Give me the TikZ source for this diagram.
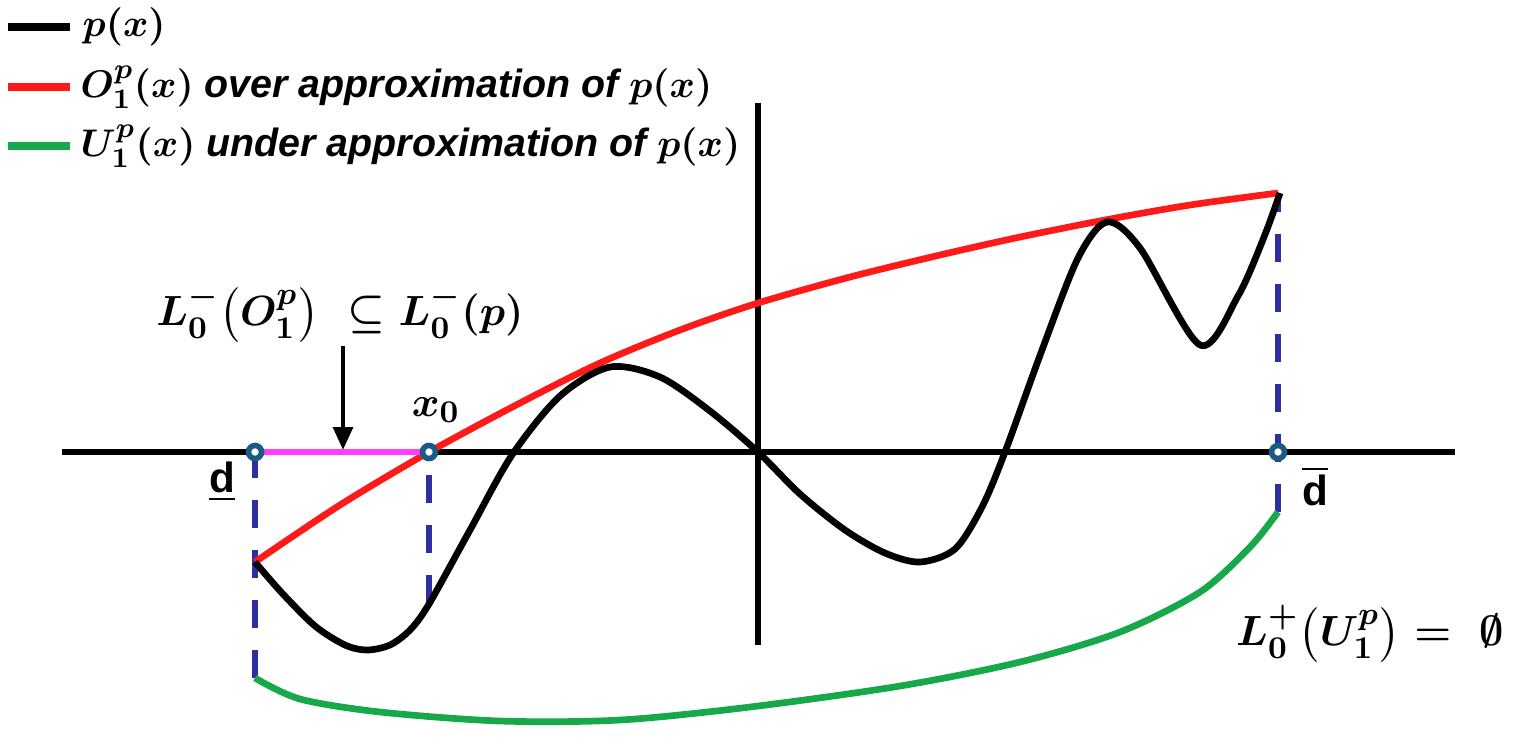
\documentclass[tikz,border=0pt]{standalone}
\usepackage{amsmath,amssymb}
\usepackage{fontspec}
\usetikzlibrary{arrows.meta}
\newfontfamily\lblfont{Liberation Sans}
\definecolor{apxRed}{HTML}{FF1A1A}
\definecolor{apxGreen}{HTML}{17A84A}
\definecolor{apxPink}{HTML}{FF3CFF}
\definecolor{apxDash}{HTML}{2E2EA3}
\definecolor{apxDot}{HTML}{1B5A84}
\tikzset{
  apxfig/.style={x=0.01cm, y=-0.01cm, >={Triangle[length=6.5pt,width=5.5pt]}},
  axisline/.style={draw=black, line width=1.6pt},
  pcurve/.style={draw=black, line width=1.9pt},
  ocurve/.style={draw=apxRed, line width=1.9pt},
  ucurve/.style={draw=apxGreen, line width=1.9pt},
  setseg/.style={draw=apxPink, line width=1.6pt},
  guide/.style={draw=apxDash, line width=1.8pt, dash pattern=on 8pt off 6.2pt},
  pointer/.style={draw=black, line width=1.3pt, ->},
  endpt/.style={circle, draw=apxDot, fill=white, line width=1.6pt, minimum size=0.13cm, inner sep=0pt},
  legtext/.style={font=\boldmath\lblfont\bfseries\itshape\fontsize{11.2}{13}\selectfont, anchor=west, inner sep=0pt},
  mathlbl/.style={font=\boldmath\fontsize{13}{15}\selectfont, inner sep=0pt},
  dlbl/.style={font=\lblfont\bfseries\fontsize{12}{14}\selectfont, inner sep=0pt},
}
\begin{document}
\begin{tikzpicture}[apxfig]
  \useasboundingbox (0,0) rectangle (1515,744);
  % legend
  \coordinate (legP1) at (8,27);   \coordinate (legP2) at (70,27);
  \coordinate (legO1) at (8,87);   \coordinate (legO2) at (70,87);
  \coordinate (legU1) at (8,146);  \coordinate (legU2) at (70,146);
  \draw[pcurve, line width=2.1pt] (legP1) -- (legP2);
  \draw[ocurve, line width=2.1pt] (legO1) -- (legO2);
  \draw[ucurve, line width=2.1pt] (legU1) -- (legU2);
  \node[legtext] (legP) at (82,27) {$p(x)$};
  \node[legtext] (legO) at (80,87) {$O_1^p(x)$ over approximation of $p(x)$};
  \node[legtext] (legU) at (80,146) {$U_1^p(x)$ under approximation of $p(x)$};
  % axes
  \coordinate (axW) at (62,452);  \coordinate (axE) at (1455,452);
  \coordinate (axN) at (758,103); \coordinate (axS) at (758,645);
  \draw[axisline] (axW) -- (axE);
  \draw[axisline] (axN) -- (axS);
  % guide lines at the interval ends
  \coordinate (dLo) at (255,450);  \coordinate (uLo) at (255,678);
  \coordinate (xZero) at (429,452); \coordinate (pAtX) at (429,603);
  \coordinate (dHi) at (1278,452);  \coordinate (uHi) at (1278,512);
  \coordinate (oHi) at (1278,193);
  \draw[guide] (dLo) -- (uLo);
  \draw[guide] (pAtX) -- (xZero);
  \draw[guide] (uHi) -- (oHi);
  % curves
  \draw[ocurve] plot[smooth] coordinates {(255,562) (340,505) (429,452) (520,403) (600,363)
    (680,330) (758,303) (850,277) (940,255) (1020,237) (1105,220) (1190,205) (1278,193)};
  \draw[ucurve] plot[smooth] coordinates {(255,678) (300,699) (380,712) (500,721) (620,720)
    (750,707) (900,686) (1020,662) (1120,632) (1200,592) (1250,547) (1278,512)};
  \draw[pcurve] plot[smooth] coordinates {(255,562) (282,593) (315,626) (345,645) (367,650)
    (390,645) (410,630) (429,604) (470,530) (512,455) (560,396) (610,367) (660,377)
    (710,411) (758,452) (800,494) (845,530) (885,553) (920,562) (955,549) (982,507)
    (1005,452) (1042,350) (1078,258) (1107,222) (1140,248) (1200,345) (1238,296)
    (1264,237) (1280,193)};
  \draw[setseg] (dLo |- xZero) -- (xZero);
  % end points
  \node[endpt] (dLoPt) at (255,452) {};
  \node[endpt] (xZeroPt) at (429,452) {};
  \node[endpt] (dHiPt) at (1278,452) {};
  % labels
  \node[mathlbl] (setLbl) at (340,314) {$L_0^-\bigl(O_1^p\bigr)\ \subseteq L_0^-(p)$};
  \coordinate (arrTop) at (343,346);
  \coordinate (segMid) at (343,450);
  \draw[pointer] (arrTop) -- (segMid);
  \node[mathlbl] (xZeroLbl) at (436,410) {$x_0$};
  \node[dlbl] (dLoLbl) at (222,482) {\underline{d}};
  \node[dlbl] (dHiLbl) at (1315,486) {$\overline{\textbf{d}}$};
  \node[mathlbl] (emptyLbl) at (1370,634) {$L_0^+\bigl(U_1^p\bigr) =\ \emptyset$};
\end{tikzpicture}
\end{document}
